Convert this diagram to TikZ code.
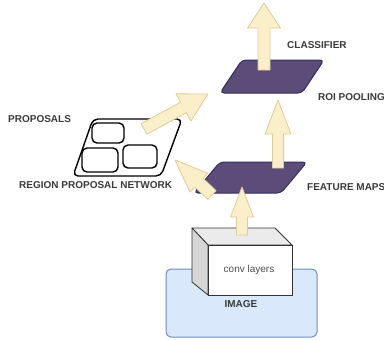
\documentclass[tikz,border=0pt]{standalone}
\usepackage{fontspec}
\setmainfont{Liberation Sans}
\usetikzlibrary{calc}
\definecolor{arrfill}{RGB}{251,239,201}
\definecolor{arrdraw}{RGB}{222,204,150}
\definecolor{purp}{RGB}{92,76,122}
\definecolor{purpdark}{RGB}{58,44,88}
\definecolor{imgfill}{RGB}{218,232,252}
\definecolor{imgdraw}{RGB}{108,142,191}
\definecolor{txt}{RGB}{58,58,58}
\tikzset{
  barrow/.style={fill=arrfill,draw=arrdraw,line width=0.8pt,line join=round},
  layer/.style={fill=purp,draw=purpdark,line width=1pt,rounded corners=4pt},
  rpnbox/.style={draw=black,line width=1.4pt,rounded corners=5pt,fill=white},
  lbl/.style={inner sep=0pt,anchor=west,text=txt,font=\bfseries\fontsize{10}{12}\selectfont},
}
\newcommand\blockarr[5]{%
  \coordinate (#1#2h) at ($(#2)!#5!(#1)$);
  \draw[barrow] ($(#1)!#3!90:(#2)$) -- ($(#1#2h)!#3!90:(#2)$) -- ($(#1#2h)!#4!90:(#2)$) -- (#2)
    -- ($(#1#2h)!#4!-90:(#2)$) -- ($(#1#2h)!#3!-90:(#2)$) -- ($(#1)!#3!-90:(#2)$) -- cycle;}
\begin{document}
\begin{tikzpicture}[x=1pt,y=-1pt]
\useasboundingbox (0,0) rectangle (384,340);
% image
\draw[fill=imgfill,draw=imgdraw,line width=1pt,rounded corners=5pt] (166,269) rectangle (317,337);
\node[inner sep=0pt,text=txt,font=\bfseries\fontsize{10}{12}\selectfont] (image) at (241,304) {IMAGE};
% conv box
\draw[fill=black!8,draw=black!80,line width=0.8pt,line join=round] (192,228) -- (275,228) -- (292,245) -- (208,245) -- cycle;
\draw[fill=black!16,draw=black!80,line width=0.8pt,line join=round] (192,228) -- (208,245) -- (208,295) -- (192,282) -- cycle;
\draw[fill=white,draw=black!80,line width=0.8pt] (208,245) rectangle (292,295);
\node[inner sep=0pt,text=black!70,font=\fontsize{10}{12}\selectfont] (conv) at (249,270) {conv layers};
% feature maps
\draw[layer] (220,162) -- (307,162) -- (281,193) -- (194,193) -- cycle;
\coordinate (ct) at (242,235); \coordinate (cp) at (242,187);
\blockarr{ct}{cp}{5.5pt}{11.5pt}{30pt}
\coordinate (bt) at (278,168); \coordinate (bp) at (278,100);
\blockarr{bt}{bp}{5.5pt}{13pt}{34pt}
% RPN
\draw[rpnbox] (93,119) -- (182,119) -- (161,176) -- (73,176) -- cycle;
\draw[rpnbox] (92,123) rectangle (124,143);
\draw[rpnbox] (82,148) rectangle (118,172);
\draw[rpnbox] (123,145) rectangle (157,168);
\coordinate (et) at (212,195); \coordinate (ep) at (175,160);
\blockarr{et}{ep}{6pt}{13pt}{33pt}
\coordinate (dt) at (144,129); \coordinate (dp) at (208,94);
\blockarr{dt}{dp}{6pt}{15.5pt}{28pt}
% ROI pooling
\draw[layer] (242,60) -- (324,60) -- (302,93) -- (220,93) -- cycle;
\coordinate (at) at (264,70); \coordinate (ap) at (264,3);
\blockarr{at}{ap}{6pt}{16.5pt}{25pt}
% labels
\node[lbl] (proposals) at (8,119) {PROPOSALS};
\node[lbl] (rpn) at (19,185) {REGION PROPOSAL NETWORK};
\node[lbl] (classifier) at (287,45) {CLASSIFIER};
\node[lbl] (roi) at (318,97) {ROI POOLING};
\node[lbl] (fmaps) at (307,187) {FEATURE MAPS};
\end{tikzpicture}
\end{document}
